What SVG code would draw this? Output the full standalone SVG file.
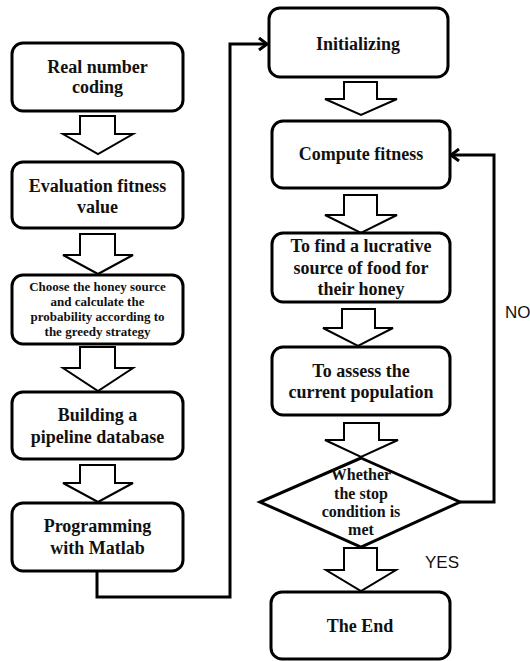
<svg xmlns="http://www.w3.org/2000/svg" width="530" height="661" viewBox="0 0 530 661">
<defs>
<style>
.box{fill:#fff;stroke:#000;stroke-width:3}
.blk{fill:#fff;stroke:#000;stroke-width:2;stroke-linejoin:miter}
.t{font-family:"Liberation Serif","Times New Roman",serif;font-weight:bold;fill:#111;text-anchor:middle}
.lab{font-family:"Liberation Sans",Arial,sans-serif;font-size:17px;fill:#111}
.conn{fill:none;stroke:#000;stroke-width:3}
</style>
<marker id="open" markerWidth="12" markerHeight="14" refX="10" refY="7" orient="auto" markerUnits="userSpaceOnUse">
<path d="M2,1 L10,7 L2,13" fill="none" stroke="#000" stroke-width="3"/>
</marker>
</defs>
<rect width="530" height="661" fill="#fff"/>

<g id="connectors">
<path class="conn" d="M97,571 V597 H230 V44 H267" marker-end="url(#open)"/>
<path class="conn" d="M460,502 H494 V155 H451" marker-end="url(#open)"/>
<path class="blk" d="M80,116 H115 V134 H133 L98,154 L63,134 H80 Z"/>
<path class="blk" d="M80,234 H115 V255 H133 L98,274 L63,255 H80 Z"/>
<path class="blk" d="M80,347 H115 V368 H133 L98,391 L63,368 H80 Z"/>
<path class="blk" d="M80,465 H115 V483 H133 L98,502 L63,483 H80 Z"/>
<path class="blk" d="M344,82 H377 V99 H397 L361,115 L325,99 H344 Z"/>
<path class="blk" d="M344,195 H377 V215 H397 L361,233 L325,215 H344 Z"/>
<path class="blk" d="M342,309 H375 V328 H393 L358,346 L323,328 H342 Z"/>
<path class="blk" d="M344,423 H379 V440 H398 L361,457 L325,440 H344 Z"/>
<path class="blk" d="M344,548 H377 V570 H396 L361,591 L326,570 H344 Z"/>
</g>

<g id="n1"><rect class="box" x="12" y="43" width="171" height="68" rx="11"/>
<text class="t" font-size="18" x="97.5" y="73">Real number</text>
<text class="t" font-size="18" x="97.5" y="93">coding</text></g>

<g id="n2"><rect class="box" x="12" y="162" width="171" height="66" rx="11"/>
<text class="t" font-size="18" x="97.5" y="192">Evaluation fitness</text>
<text class="t" font-size="18" x="97.5" y="213">value</text></g>

<g id="n3"><rect class="box" x="12" y="275" width="171" height="69" rx="11"/>
<text class="t" font-size="13" x="97.5" y="291">Choose the honey source</text>
<text class="t" font-size="13" x="97.5" y="306">and calculate the</text>
<text class="t" font-size="13" x="97.5" y="321">probability  according to</text>
<text class="t" font-size="13" x="97.5" y="336">the greedy strategy</text></g>

<g id="n4"><rect class="box" x="12" y="392" width="171" height="67" rx="11"/>
<text class="t" font-size="18" x="97.5" y="421">Building a</text>
<text class="t" font-size="18" x="97.5" y="443">pipeline database</text></g>

<g id="n5"><rect class="box" x="12" y="503" width="171" height="68" rx="11"/>
<text class="t" font-size="18" x="97.5" y="532">Programming</text>
<text class="t" font-size="18" x="97.5" y="554">with Matlab</text></g>

<g id="n6"><rect class="box" x="269" y="8" width="179" height="69" rx="11"/>
<text class="t" font-size="18" x="358" y="50">Initializing</text></g>

<g id="n7"><rect class="box" x="272" y="121" width="178" height="67" rx="11"/>
<text class="t" font-size="18" x="361" y="160">Compute fitness</text></g>

<g id="n8"><rect class="box" x="272" y="233" width="178" height="69" rx="11"/>
<text class="t" font-size="18" x="361" y="252">To find a lucrative</text>
<text class="t" font-size="18" x="361" y="274">source of food for</text>
<text class="t" font-size="18" x="361" y="295">their honey</text></g>

<g id="n9"><rect class="box" x="272" y="347" width="178" height="68" rx="11"/>
<text class="t" font-size="18" x="361" y="377">To assess the</text>
<text class="t" font-size="18" x="361" y="398">current population</text></g>

<g id="n10"><path class="box" d="M361,458 L460,502 L361,547 L260,502 Z"/>
<text class="t" font-size="16" x="361" y="480">Whether</text>
<text class="t" font-size="16" x="361" y="499">the stop</text>
<text class="t" font-size="16" x="361" y="517">condition is</text>
<text class="t" font-size="16" x="361" y="535">met</text></g>

<g id="n11"><rect class="box" x="271" y="592" width="179" height="67" rx="11"/>
<text class="t" font-size="18" x="360" y="632">The End</text></g>

<g id="labels">
<text class="lab" x="505" y="318">NO</text>
<text class="lab" x="425" y="568">YES</text>
</g>
</svg>
